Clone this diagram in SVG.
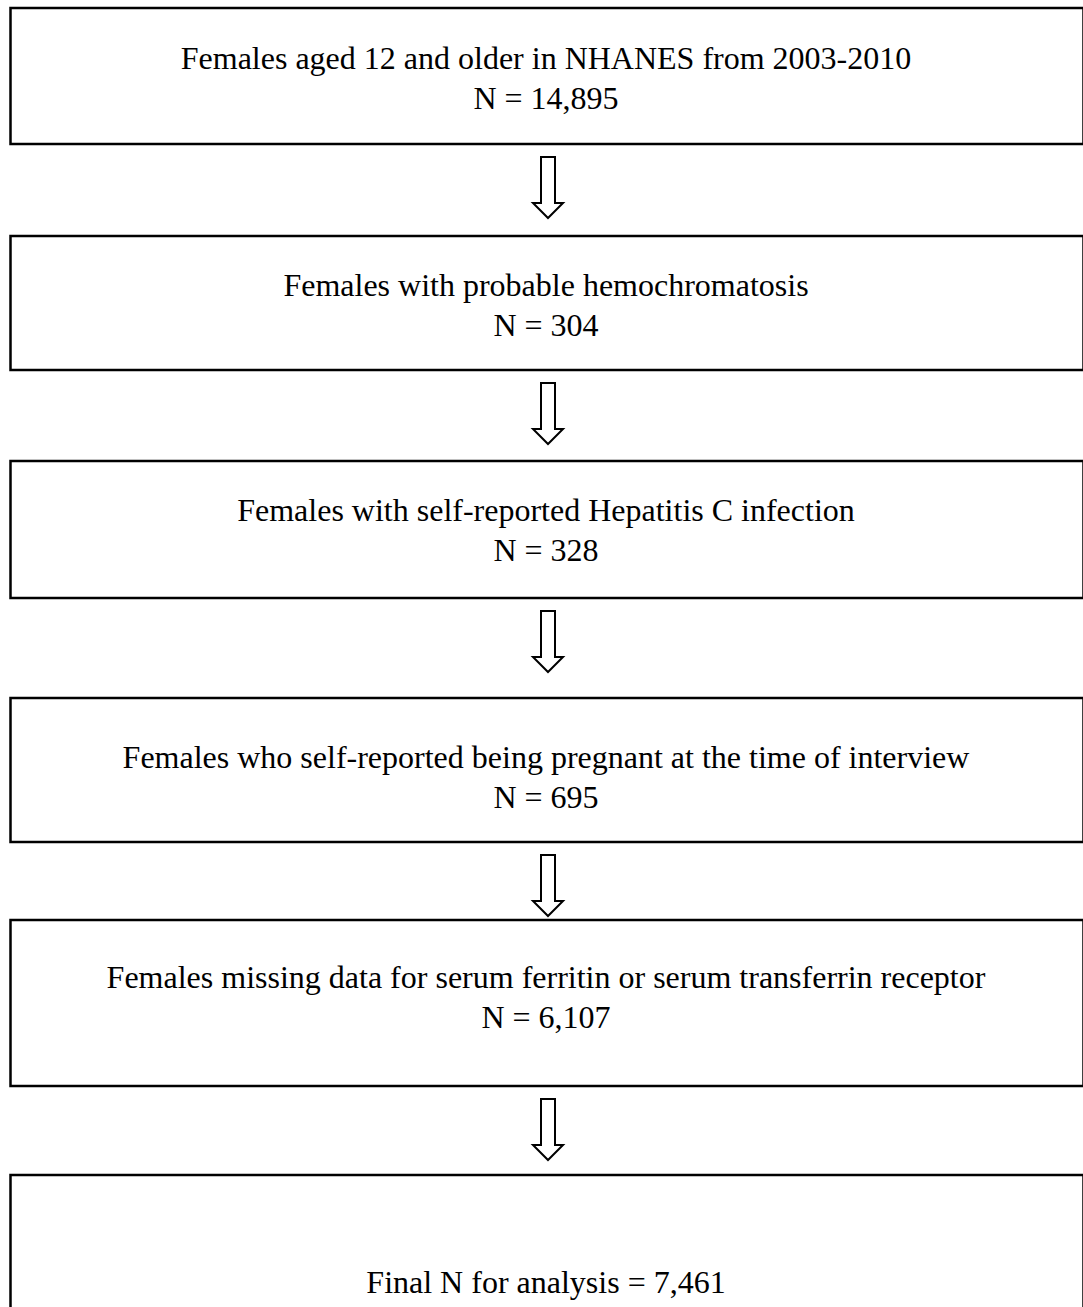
<svg xmlns="http://www.w3.org/2000/svg" width="1083" height="1307" viewBox="0 0 1083 1307">
<style>
.box{fill:#fff;stroke:#000;stroke-width:2.5}
.t{font-family:"Liberation Serif","Times New Roman",serif;font-size:32px;fill:#000;text-anchor:middle}
.arr{fill:#fff;stroke:#000;stroke-width:2;stroke-linejoin:miter}
</style>
<rect width="1083" height="1307" fill="#fff"/>
<g id="n1"><rect class="box" x="10.5" y="8" width="1073" height="136"/>
<text class="t" x="546" y="69">Females aged 12 and older in NHANES from 2003-2010</text>
<text class="t" x="546" y="109">N = 14,895</text></g>
<g id="n2"><rect class="box" x="10.5" y="236" width="1073" height="134"/>
<text class="t" x="546" y="296">Females with probable hemochromatosis</text>
<text class="t" x="546" y="336">N = 304</text></g>
<g id="n3"><rect class="box" x="10.5" y="461" width="1073" height="137"/>
<text class="t" x="546" y="521">Females with self-reported Hepatitis C infection</text>
<text class="t" x="546" y="561">N = 328</text></g>
<g id="n4"><rect class="box" x="10.5" y="698" width="1073" height="144"/>
<text class="t" x="546" y="768">Females who self-reported being pregnant at the time of interview</text>
<text class="t" x="546" y="808">N = 695</text></g>
<g id="n5"><rect class="box" x="10.5" y="920" width="1073" height="166"/>
<text class="t" x="546" y="988">Females missing data for serum ferritin or serum transferrin receptor</text>
<text class="t" x="546" y="1028">N = 6,107</text></g>
<g id="n6"><rect class="box" x="10.5" y="1175" width="1073" height="160"/>
<text class="t" x="546" y="1293">Final N for analysis = 7,461</text></g>
<g id="connectors">
<path class="arr" d="M541 157 H555 V203 H563 L548 218 L533 203 H541 Z"/>
<path class="arr" d="M541 383 H555 V429 H563 L548 444 L533 429 H541 Z"/>
<path class="arr" d="M541 611 H555 V657 H563 L548 672 L533 657 H541 Z"/>
<path class="arr" d="M541 855 H555 V901 H563 L548 916 L533 901 H541 Z"/>
<path class="arr" d="M541 1099 H555 V1145 H563 L548 1160 L533 1145 H541 Z"/>
</g>
</svg>
